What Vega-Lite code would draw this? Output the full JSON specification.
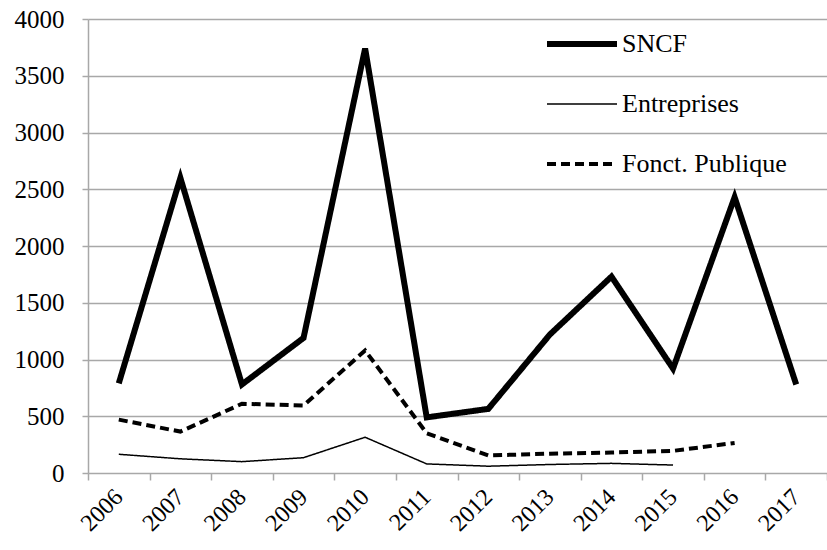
{
  "$schema": "https://vega.github.io/schema/vega-lite/v6.json",
  "width": 739,
  "height": 454,
  "autosize": "none",
  "padding": {"left": 88, "top": 19, "right": 0, "bottom": 77},
  "background": "white",
  "config": {"view": {"stroke": null}, "font": "Liberation Serif"},
  "data": {"values": [
    {"year": "2006", "series": "SNCF", "value": 790},
    {"year": "2007", "series": "SNCF", "value": 2600},
    {"year": "2008", "series": "SNCF", "value": 780},
    {"year": "2009", "series": "SNCF", "value": 1190},
    {"year": "2010", "series": "SNCF", "value": 3740},
    {"year": "2011", "series": "SNCF", "value": 490},
    {"year": "2012", "series": "SNCF", "value": 565},
    {"year": "2013", "series": "SNCF", "value": 1220},
    {"year": "2014", "series": "SNCF", "value": 1730},
    {"year": "2015", "series": "SNCF", "value": 920},
    {"year": "2016", "series": "SNCF", "value": 2430},
    {"year": "2017", "series": "SNCF", "value": 780},
    {"year": "2006", "series": "Entreprises", "value": 165},
    {"year": "2007", "series": "Entreprises", "value": 125},
    {"year": "2008", "series": "Entreprises", "value": 100},
    {"year": "2009", "series": "Entreprises", "value": 135},
    {"year": "2010", "series": "Entreprises", "value": 315},
    {"year": "2011", "series": "Entreprises", "value": 80},
    {"year": "2012", "series": "Entreprises", "value": 60},
    {"year": "2013", "series": "Entreprises", "value": 75},
    {"year": "2014", "series": "Entreprises", "value": 85},
    {"year": "2015", "series": "Entreprises", "value": 70},
    {"year": "2006", "series": "Fonct. Publique", "value": 470},
    {"year": "2007", "series": "Fonct. Publique", "value": 365},
    {"year": "2008", "series": "Fonct. Publique", "value": 610},
    {"year": "2009", "series": "Fonct. Publique", "value": 595},
    {"year": "2010", "series": "Fonct. Publique", "value": 1080},
    {"year": "2011", "series": "Fonct. Publique", "value": 350},
    {"year": "2012", "series": "Fonct. Publique", "value": 155},
    {"year": "2013", "series": "Fonct. Publique", "value": 170},
    {"year": "2014", "series": "Fonct. Publique", "value": 180},
    {"year": "2015", "series": "Fonct. Publique", "value": 195},
    {"year": "2016", "series": "Fonct. Publique", "value": 265}
  ]},
  "mark": {"type": "line", "color": "black"},
  "encoding": {
    "x": {
      "field": "year", "type": "ordinal",
      "scale": {"type": "band", "paddingInner": 0, "paddingOuter": 0},
      "axis": {
        "title": null, "labelAngle": -45, "labelAlign": "right", "labelBaseline": "middle",
        "tickBand": "extent", "domain": false, "tickColor": "#a8a8a8", "tickWidth": 1.5, "tickSize": 7,
        "labelFont": "Liberation Serif", "labelFontSize": 24, "labelColor": "black", "labelPadding": 13,
        "grid": false
      }
    },
    "y": {
      "field": "value", "type": "quantitative",
      "scale": {"domain": [0, 4000], "nice": false},
      "axis": {
        "title": null, "values": [0, 500, 1000, 1500, 2000, 2500, 3000, 3500, 4000], "format": "d",
        "grid": true, "gridColor": "#a8a8a8", "gridWidth": 1.5,
        "domainColor": "#a8a8a8", "domainWidth": 1.5,
        "tickColor": "#a8a8a8", "tickWidth": 1.5, "tickSize": 6,
        "labelFont": "Liberation Serif", "labelFontSize": 25, "labelColor": "black", "labelPadding": 18
      }
    },
    "strokeWidth": {
      "field": "series", "type": "nominal",
      "scale": {"type": "ordinal", "domain": ["SNCF", "Entreprises", "Fonct. Publique"], "range": [6, 1.5, 4]},
      "legend": {
        "orient": "none", "legendX": 456, "legendY": 10, "title": null,
        "symbolType": "stroke", "symbolSize": 4900, "symbolStrokeColor": "black",
        "labelFont": "Liberation Serif", "labelFontSize": 26, "labelColor": "black", "labelLimit": 300,
        "clipHeight": 30, "rowPadding": 30, "labelOffset": 2
      }
    },
    "strokeDash": {
      "field": "series", "type": "nominal",
      "scale": {"domain": ["SNCF", "Entreprises", "Fonct. Publique"], "range": [[1, 0], [1, 0], [9, 5]]},
      "legend": {
        "orient": "none", "legendX": 456, "legendY": 10, "title": null,
        "symbolType": "stroke", "symbolSize": 4900, "symbolStrokeColor": "black",
        "labelFont": "Liberation Serif", "labelFontSize": 26, "labelColor": "black", "labelLimit": 300,
        "clipHeight": 30, "rowPadding": 30, "labelOffset": 2
      }
    }
  }
}
